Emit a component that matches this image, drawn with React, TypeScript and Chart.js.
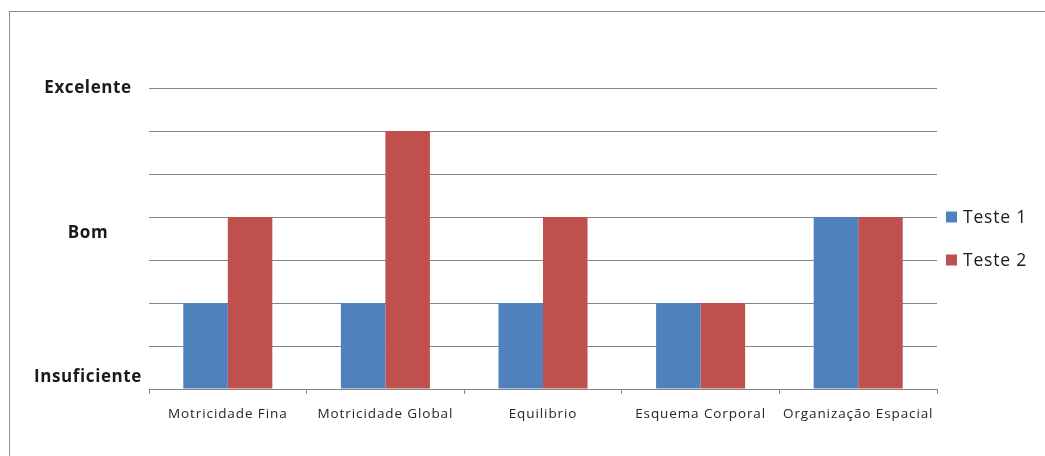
import React, { useEffect, useRef } from "react";
import { Chart, registerables } from "chart.js";

Chart.register(...registerables);

const categories = ["Motricidade Fina", "Motricidade Global", "Equilibrio", "Esquema Corporal", "Organização Espacial"];
const seriesNames = ["Teste 1", "Teste 2"];
const teste1 = [2, 2, 2, 2, 4];
const teste2 = [4, 6, 4, 2, 4];
const seriesColors = ["#4F81BD", "#C0504D"];
const yLabels = ["Excelente", "Bom", "Insuficiente"];
const yLabelValues = [7, 3.62, 0.28];
const yMin = 0;
const yMax = 7;

const FONT = "'Open Sans', 'Noto Sans', sans-serif";

export default function App() {
  const ref = useRef<HTMLCanvasElement | null>(null);

  useEffect(() => {
    document.body.style.margin = "0";
    const canvas = ref.current;
    if (!canvas) return;

    const overlay = {
      id: "overlay",
      afterDraw(chart: any) {
        const ctx = chart.ctx;
        const y = chart.scales.y;
        const x = chart.scales.x;
        const area = chart.chartArea;
        ctx.save();
        // y category labels
        ctx.font = `bold 17px ${FONT}`;
        (ctx as any).letterSpacing = "0.6px";
        ctx.fillStyle = "#1a1a1a";
        ctx.textAlign = "center";
        ctx.textBaseline = "middle";
        yLabels.forEach((lab, i) => {
          ctx.fillText(lab, area.left - 61, y.getPixelForValue(yLabelValues[i]));
        });
        // x category labels
        ctx.font = `13.5px ${FONT}`;
        (ctx as any).letterSpacing = "0.9px";
        ctx.fillStyle = "#262626";
        categories.forEach((lab, i) => {
          ctx.fillText(lab, x.getPixelForValue(i), area.bottom + 25);
        });
        // legend
        ctx.font = `17.5px ${FONT}`;
        (ctx as any).letterSpacing = "0.8px";
        ctx.textAlign = "left";
        const mid = (area.top + area.bottom) / 2;
        const gap = 43;
        seriesNames.forEach((name, i) => {
          const cy = mid - gap / 2 + i * gap;
          ctx.fillStyle = seriesColors[i];
          ctx.fillRect(area.right + 9, cy - 5.5, 11, 11);
          ctx.fillStyle = "#1a1a1a";
          ctx.fillText(name, area.right + 26, cy + 1);
        });
        ctx.restore();
      },
    };

    const chart = new Chart(canvas, {
      type: "bar",
      data: {
        labels: categories,
        datasets: [
          { label: seriesNames[0], data: teste1, backgroundColor: seriesColors[0], borderWidth: 0 },
          { label: seriesNames[1], data: teste2, backgroundColor: seriesColors[1], borderWidth: 0 },
        ],
      },
      options: {
        animation: false,
        responsive: false,
        maintainAspectRatio: false,
        layout: { padding: { left: 0, top: 88, right: 108, bottom: 0 } },
        plugins: { legend: { display: false }, tooltip: { enabled: false } },
        datasets: { bar: { categoryPercentage: 0.565, barPercentage: 1.0 } },
        scales: {
          x: {
            offset: true,
            grid: {
              offset: true,
              drawOnChartArea: false,
              drawTicks: true,
              tickLength: 5,
              color: "#868686",
            },
            border: { display: true, color: "#868686", width: 1 },
            ticks: { display: false, autoSkip: false },
            afterFit(scale: any) {
              scale.height = 67;
            },
          },
          y: {
            min: yMin,
            max: yMax,
            ticks: { stepSize: 1, display: false },
            grid: { drawTicks: false, color: "#868686", lineWidth: 1 },
            border: { display: false },
            afterFit(scale: any) {
              scale.width = 149;
            },
          },
        },
      },
      plugins: [overlay],
    });

    return () => chart.destroy();
  }, []);

  return (
    <div style={{ position: "fixed", left: 0, top: 0, width: 1045, height: 456, overflow: "hidden", background: "#fff" }}>
      <div
        style={{
          position: "absolute",
          left: 9,
          top: 11,
          width: 1100,
          height: 500,
          borderLeft: "1.5px solid #8c8c8c",
          borderTop: "1.5px solid #8c8c8c",
        }}
      />
      <canvas ref={ref} width={1045} height={456} style={{ position: "absolute", left: 0, top: 0 }} />
    </div>
  );
}
